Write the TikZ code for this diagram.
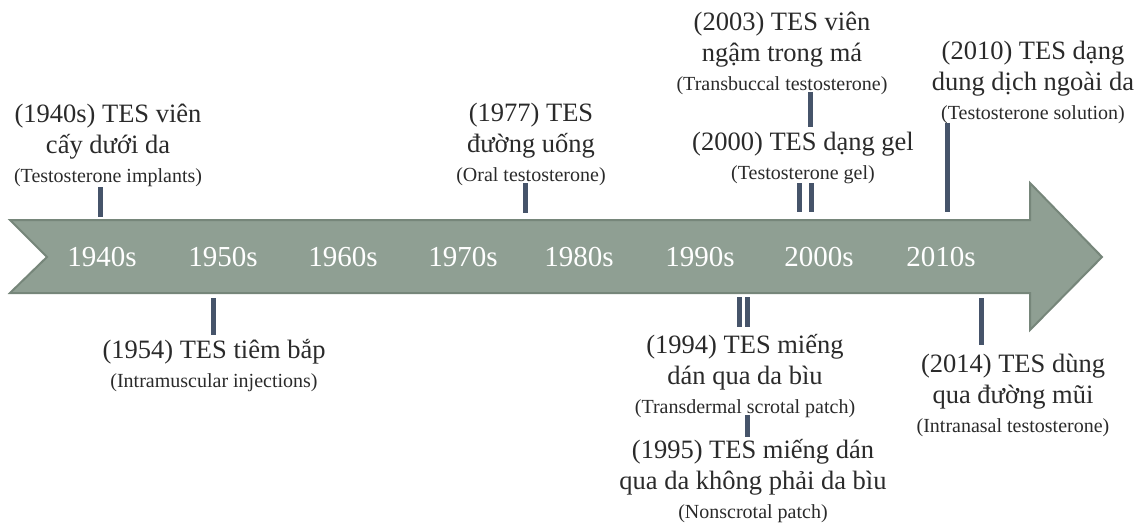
\documentclass[tikz,border=0pt]{standalone}
\usepackage{fontspec}
\setmainfont{Liberation Serif}
\definecolor{arrowfill}{HTML}{8F9F93}
\definecolor{arrowedge}{HTML}{76867A}
\definecolor{tickc}{HTML}{46546A}
\definecolor{txt}{HTML}{2A2A2A}
\newcommand\engl[1]{{\fontsize{20}{24}\selectfont #1}}
\begin{document}
\begin{tikzpicture}[x=1pt,y=-1pt,
  decade/.style={text=white,font=\fontsize{29}{34}\selectfont,inner sep=0pt},
  event/.style={text=txt,align=center,inner sep=0pt,font=\fontsize{26.5}{31}\selectfont},
  tickmark/.style={draw=tickc,line width=5pt}]
\useasboundingbox (0,0) rectangle (1146,524);
% timeline arrow
\draw[fill=arrowfill,draw=arrowedge,line width=2pt,line join=miter]
  (10,220) -- (1030,220) -- (1030,183) -- (1102,257) -- (1030,330) -- (1030,293) -- (10,293) -- (47,257) -- cycle;
% decades
\node[decade] (d40) at (102,257) {1940s};
\node[decade] (d50) at (223,257) {1950s};
\node[decade] (d60) at (343,257) {1960s};
\node[decade] (d70) at (463,257) {1970s};
\node[decade] (d80) at (579,257) {1980s};
\node[decade] (d90) at (700,257) {1990s};
\node[decade] (d00) at (819,257) {2000s};
\node[decade] (d10) at (941,257) {2010s};
% events
\node[event] (e1940) at (108,145) {(1940s) TES viên\\cấy dưới da\\[-2pt]\engl{(Testosterone implants)}};
\node[event] (e1954) at (214,366) {(1954) TES tiêm bắp\\[-2pt]\engl{(Intramuscular injections)}};
\node[event] (e1977) at (531,144) {(1977) TES\\đường uống\\[-2pt]\engl{(Oral testosterone)}};
\node[event] (e2003) at (782,53) {(2003) TES viên\\ngậm trong má\\[-2pt]\engl{(Transbuccal testosterone)}};
\node[event] (e2000) at (803,158) {(2000) TES dạng gel\\[-2pt]\engl{(Testosterone gel)}};
\node[event] (e2010) at (1033,82) {(2010) TES dạng\\dung dịch ngoài da\\[-2pt]\engl{(Testosterone solution)}};
\node[event] (e1994) at (745,376) {(1994) TES miếng\\dán qua da bìu\\[-2pt]\engl{(Transdermal scrotal patch)}};
\node[event] (e1995) at (753,481) {(1995) TES miếng dán\\qua da không phải da bìu\\[-2pt]\engl{(Nonscrotal patch)}};
\node[event] (e2014) at (1013,395) {(2014) TES dùng\\qua đường mũi\\[-2pt]\engl{(Intranasal testosterone)}};
% tick marks
\coordinate (k40a) at (100,187);  \coordinate (k40b) at (100,217);
\coordinate (k54a) at (213,298);  \coordinate (k54b) at (213,335);
\coordinate (k77a) at (525,183);  \coordinate (k77b) at (525,213);
\coordinate (k03a) at (810,92);   \coordinate (k03b) at (810,127);
\coordinate (k00a) at (799,183);  \coordinate (k00b) at (799,212);
\coordinate (k00c) at (811,183);  \coordinate (k00d) at (811,212);
\coordinate (k10a) at (947,123);  \coordinate (k10b) at (947,212);
\coordinate (k94a) at (739,297);  \coordinate (k94b) at (739,327);
\coordinate (k94c) at (747,297);  \coordinate (k94d) at (747,327);
\coordinate (k95a) at (747,415);  \coordinate (k95b) at (747,437);
\coordinate (k14a) at (981,298);  \coordinate (k14b) at (981,345);
\draw[tickmark] (k40a) -- (k40b);
\draw[tickmark] (k54a) -- (k54b);
\draw[tickmark] (k77a) -- (k77b);
\draw[tickmark] (k03a) -- (k03b);
\draw[tickmark] (k00a) -- (k00b);
\draw[tickmark] (k00c) -- (k00d);
\draw[tickmark] (k10a) -- (k10b);
\draw[tickmark] (k94a) -- (k94b);
\draw[tickmark] (k94c) -- (k94d);
\draw[tickmark] (k95a) -- (k95b);
\draw[tickmark] (k14a) -- (k14b);
\end{tikzpicture}
\end{document}
